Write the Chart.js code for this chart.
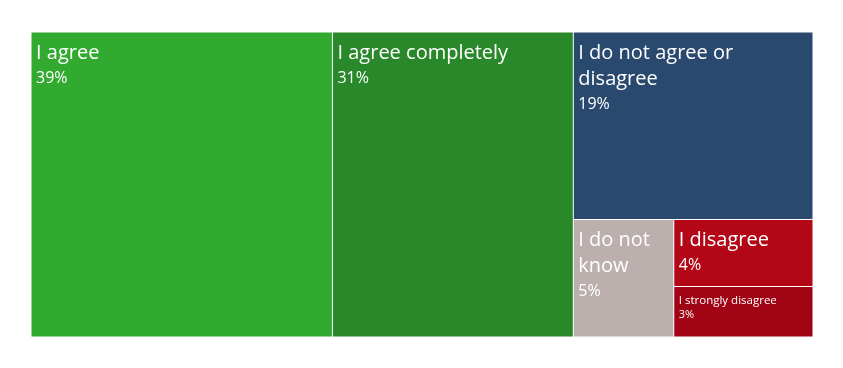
<!DOCTYPE html>
<html>
<head>
<meta charset="utf-8">
<script src="https://cdn.jsdelivr.net/npm/chart.js@4.4.1/dist/chart.umd.min.js"></script>
<style>
  html, body { margin: 0; padding: 0; background: #fff; }
  #wrap { width: 843px; height: 368px; }
</style>
</head>
<body>
<div id="wrap"><canvas id="answers-chart"></canvas></div>
<script>
const answers = [
  "I agree",
  "I agree completely",
  "I do not agree or disagree",
  "I do not know",
  "I disagree",
  "I strongly disagree",
];
const shares = [38.55, 30.8, 18.84, 4.95, 3.91, 2.95];
const tileColors = ["#32aa30", "#298829", "#2a496e", "#bcb0af", "#b30617", "#a00313"];

// same tiling as d3.treemapSquarify (golden ratio)
function squarify(values, x0, y0, x1, y1) {
  const ratio = (1 + Math.sqrt(5)) / 2;
  const tiles = [];
  const n = values.length;
  let value = values.reduce((a, b) => a + b, 0);
  let i0 = 0;
  while (i0 < n) {
    const dx = x1 - x0, dy = y1 - y0;
    let i1 = i0;
    let sum = values[i1++];
    let minV = sum, maxV = sum;
    const alpha = Math.max(dy / dx, dx / dy) / (value * ratio);
    let beta = sum * sum * alpha;
    let minRatio = Math.max(maxV / beta, beta / minV);
    for (; i1 < n; i1++) {
      const v = values[i1];
      const s = sum + v;
      const mn = Math.min(minV, v), mx = Math.max(maxV, v);
      beta = s * s * alpha;
      const r = Math.max(mx / beta, beta / mn);
      if (r > minRatio) break;
      sum = s; minV = mn; maxV = mx; minRatio = r;
    }
    const row = values.slice(i0, i1);
    if (dx < dy) {
      const h = value ? dy * sum / value : dy;
      let x = x0;
      row.forEach(v => {
        const w = dx * v / sum;
        tiles.push({ x0: x, y0: y0, x1: x + w, y1: y0 + h });
        x += w;
      });
      y0 += h;
    } else {
      const w = value ? dx * sum / value : dx;
      let y = y0;
      row.forEach(v => {
        const h = dy * v / sum;
        tiles.push({ x0: x0, y0: y, x1: x0 + w, y1: y + h });
        y += h;
      });
      x0 += w;
    }
    value -= sum;
    i0 = i1;
  }
  return tiles;
}

const bigText = { label: 20, pct: 16, first: 26, step: 26, pctStep: 24, bottom: 6 };
const smallText = { label: 11.5, pct: 11, first: 17, step: 14, pctStep: 14, bottom: 4 };
const padX = 4.5;

function wrapWords(ctx, text, maxWidth) {
  const words = text.split(" ");
  const lines = [];
  let line = "";
  words.forEach(word => {
    const test = line ? line + " " + word : word;
    if (line && ctx.measureText(test).width > maxWidth) {
      lines.push(line);
      line = word;
    } else {
      line = test;
    }
  });
  if (line) lines.push(line);
  return lines;
}

class TreemapController extends Chart.DatasetController {
  update(mode) {
    const meta = this._cachedMeta;
    this.updateElements(meta.data, 0, meta.data.length, mode);
  }

  updateElements(rects, start, count, mode) {
    const { xScale, yScale } = this._cachedMeta;
    const area = this.chart.chartArea;
    const values = this.getDataset().data;
    const tiles = squarify(values, 0, 0, area.width, area.height);
    for (let i = start; i < start + count; i++) {
      const t = tiles[i];
      const left = xScale.getPixelForValue(t.x0 / area.width) + 0.5;
      const right = xScale.getPixelForValue(t.x1 / area.width) - 0.5;
      const top = yScale.getPixelForValue(t.y0 / area.height) + 0.5;
      const bottom = yScale.getPixelForValue(t.y1 / area.height) - 0.5;
      this.updateElement(rects[i], i, {
        x: (left + right) / 2,
        y: top,
        base: bottom,
        width: right - left,
        height: bottom - top,
        horizontal: false,
        borderSkipped: {},
        enableBorderRadius: false,
        inflateAmount: 0,
        options: this.resolveDataElementOptions(i, mode),
      }, mode);
    }
  }

  draw() {
    super.draw();
    const ctx = this.chart.ctx;
    const values = this.getDataset().data;
    const labels = this.chart.data.labels;
    const total = values.reduce((a, b) => a + b, 0);
    ctx.save();
    ctx.fillStyle = "#ffffff";
    ctx.textBaseline = "alphabetic";
    ctx.textAlign = "left";
    this._cachedMeta.data.forEach((rect, i) => {
      const left = rect.x - rect.width / 2;
      const w = rect.width;
      const h = rect.base - rect.y;
      let style = bigText;
      ctx.font = style.label + "px 'Open Sans'";
      let lines = wrapWords(ctx, labels[i], w - 2 * padX);
      const need = style.first + (lines.length - 1) * style.step + style.pctStep + style.bottom;
      if (need > h) {
        style = smallText;
        ctx.font = style.label + "px 'Open Sans'";
        lines = wrapWords(ctx, labels[i], w - 2 * padX);
      }
      let y = rect.y + style.first;
      lines.forEach((line, k) => {
        if (k > 0) y += style.step;
        ctx.fillText(line, left + padX, y);
      });
      ctx.font = style.pct + "px 'Open Sans'";
      ctx.fillText(Math.round(values[i] / total * 100) + "%", left + padX, y + style.pctStep);
    });
    ctx.restore();
  }
}
TreemapController.id = "treemap";
TreemapController.defaults = { dataElementType: "bar" };
Chart.register(TreemapController);

new Chart(document.getElementById("answers-chart"), {
  type: "treemap",
  data: {
    labels: answers,
    datasets: [
      {
        data: shares,
        backgroundColor: tileColors,
        borderWidth: 0,
      },
    ],
  },
  options: {
    responsive: true,
    maintainAspectRatio: false,
    animation: false,
    devicePixelRatio: 1,
    events: [],
    layout: {
      padding: { left: 31, right: 30, top: 32, bottom: 31 },
    },
    plugins: {
      legend: { display: false },
      tooltip: { enabled: false },
    },
    scales: {
      x: { type: "linear", min: 0, max: 1, display: false },
      y: { type: "linear", min: 0, max: 1, reverse: true, display: false },
    },
  },
});
</script>
</body>
</html>
